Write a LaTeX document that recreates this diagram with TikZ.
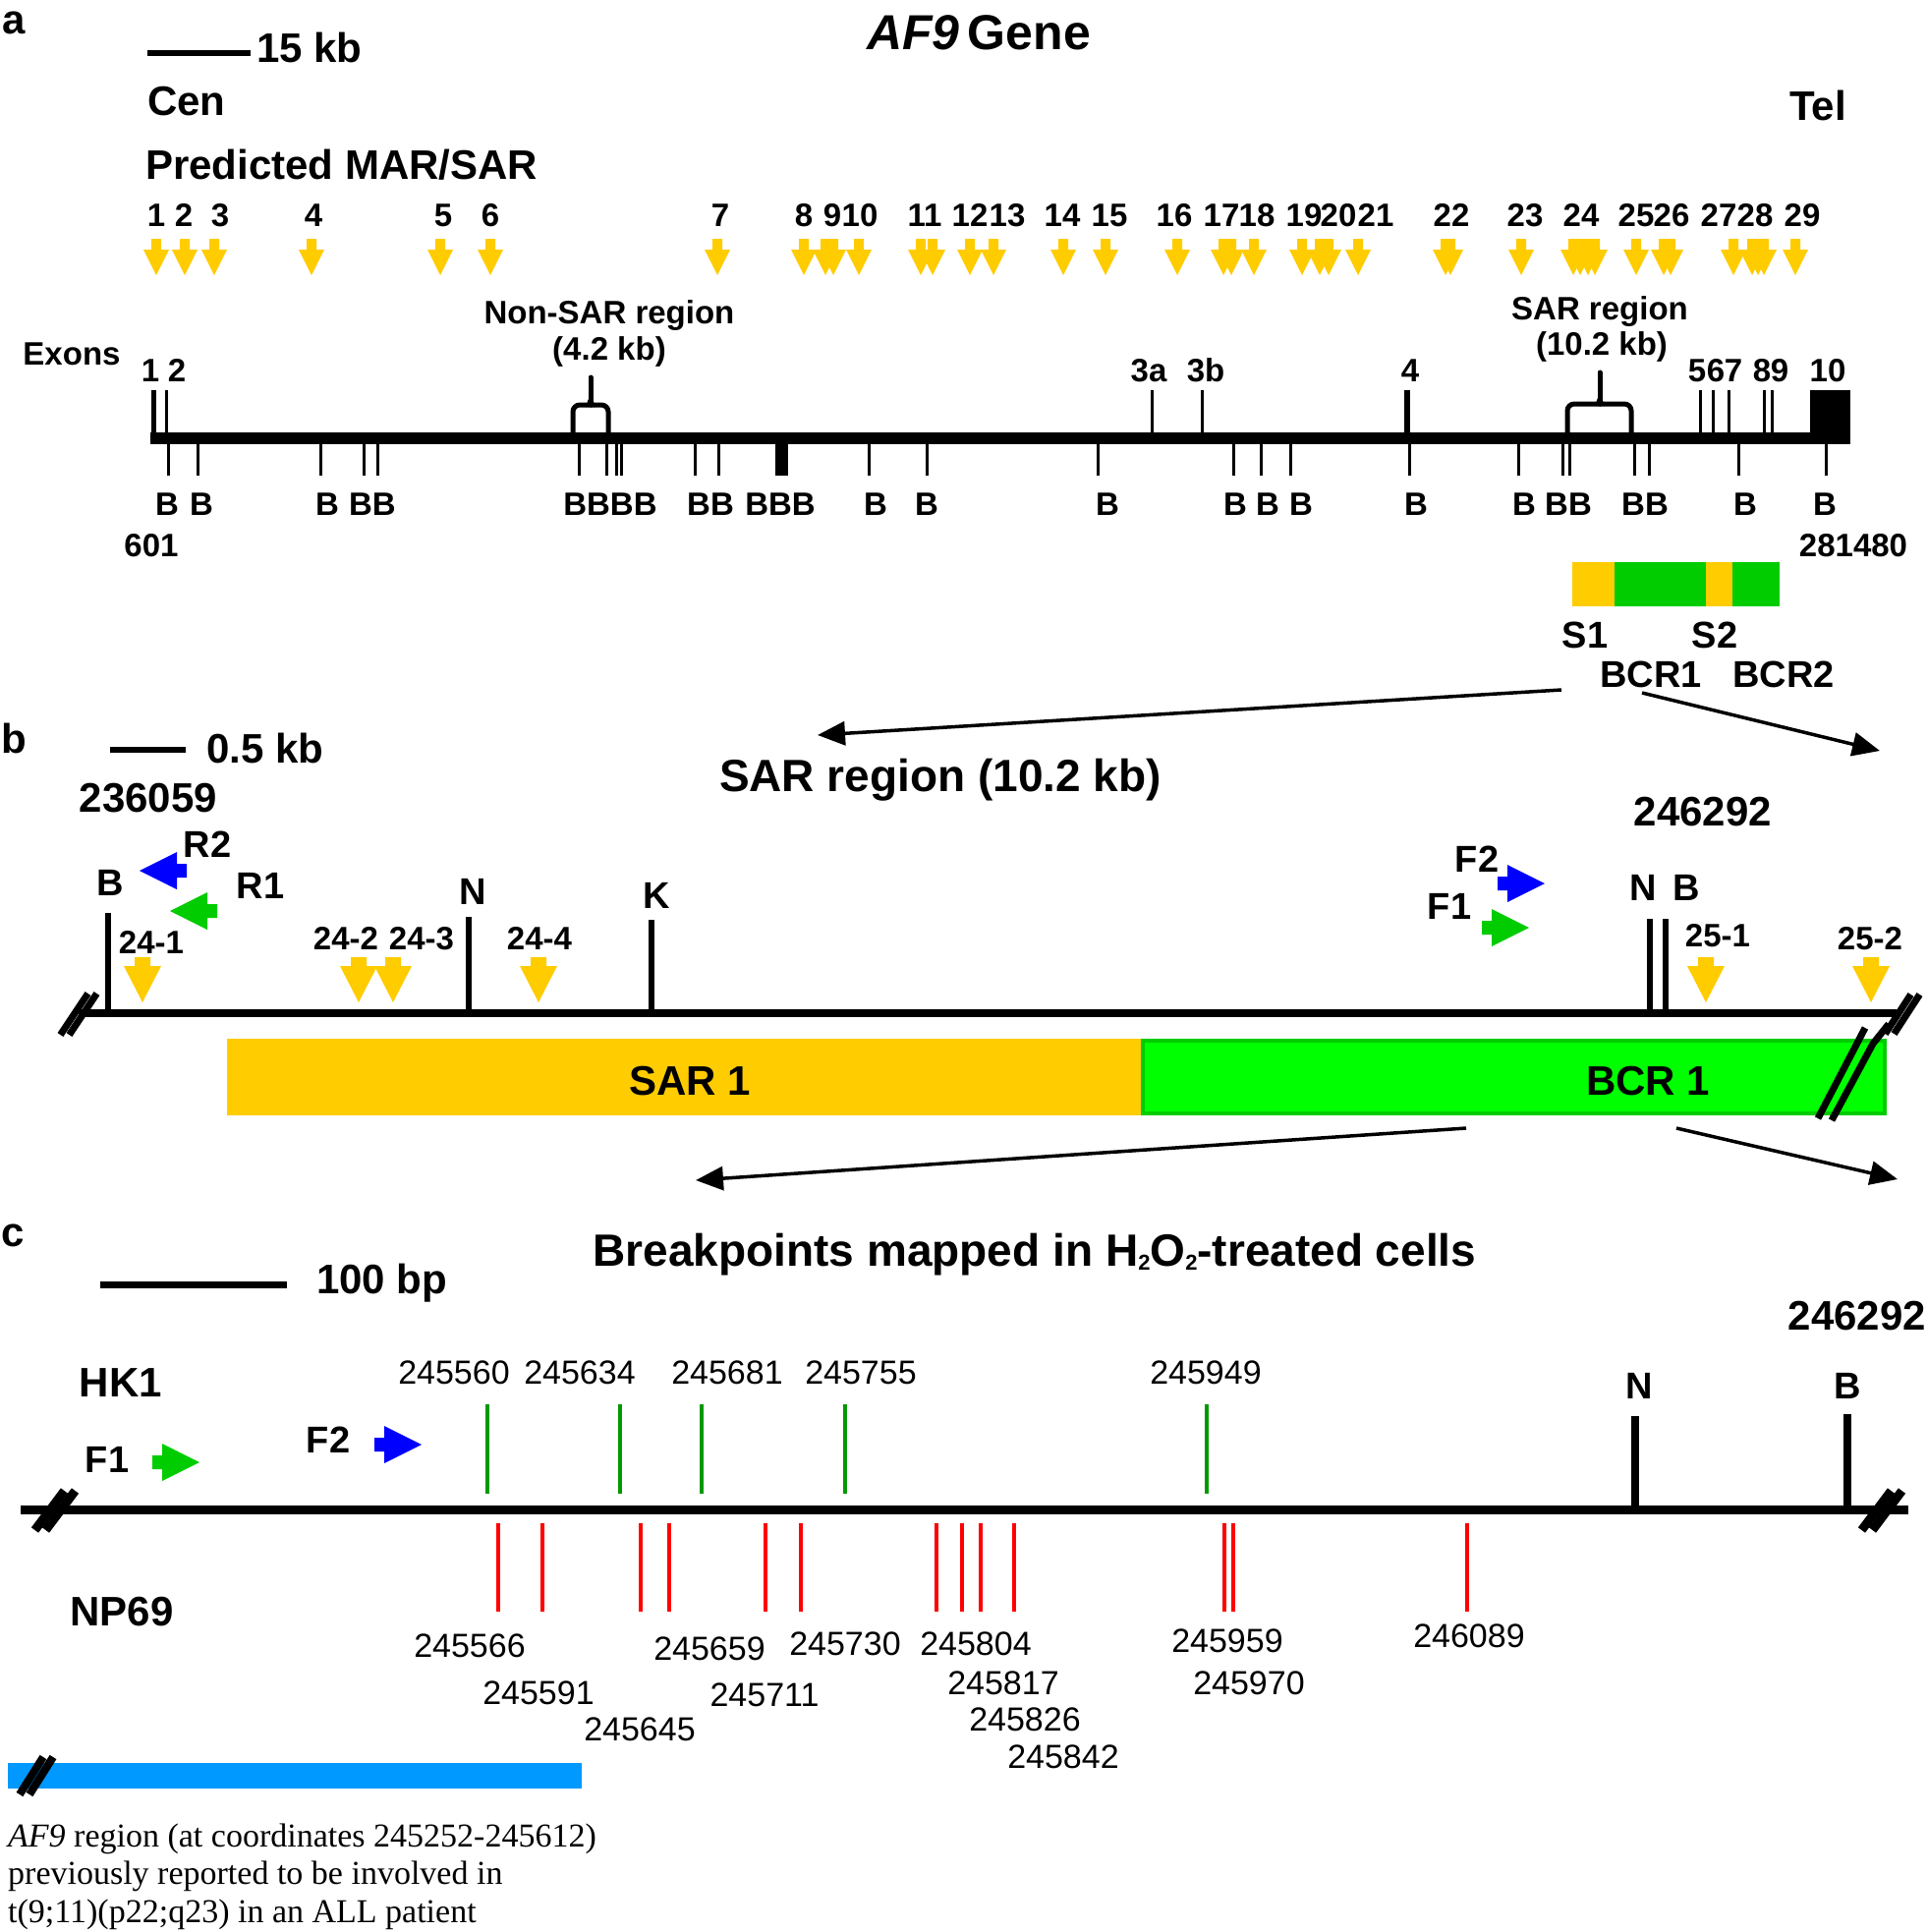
\documentclass[tikz,border=0pt]{standalone}
\usepackage{fontspec}
\setmainfont{Liberation Sans}
\newfontfamily\tmsfont{Liberation Serif}
\usetikzlibrary{arrows.meta}
\definecolor{yel}{RGB}{255,204,0}
\definecolor{grA}{RGB}{0,204,0}
\definecolor{grB}{RGB}{0,255,0}
\definecolor{grT}{RGB}{0,153,0}
\definecolor{blP}{RGB}{0,0,255}
\definecolor{blBar}{RGB}{0,153,255}
\definecolor{redT}{RGB}{255,0,0}
\newcommand{\myfs}[1]{\fontsize{#1}{#1}\selectfont}
\newcommand{\subtwo}{{\myfs{22}\raisebox{-4pt}{2}}}
% yellow arrows, panel a
\newcommand{\yA}[1]{\fill[yel] ({#1-5},243) -- ({#1+5},243) -- ({#1+5},254) -- ({#1+13},254) -- (#1,280) -- ({#1-13},254) -- ({#1-5},254) -- cycle;}
% yellow arrows, panel b
\newcommand{\yB}[1]{\fill[yel] ({#1-8},974) -- ({#1+8},974) -- ({#1+8},983) -- ({#1+19},983) -- (#1,1020) -- ({#1-19},983) -- ({#1-8},983) -- cycle;}
% primer arrow: colour, tip x, tip y, direction (+1 right, -1 left)
\newcommand{\primer}[4]{\fill[#1] (#2,#3) -- ({#2-(#4)*38},{#3-19}) -- ({#2-(#4)*38},{#3-7}) -- ({#2-(#4)*48},{#3-7}) -- ({#2-(#4)*48},{#3+7}) -- ({#2-(#4)*38},{#3+7}) -- ({#2-(#4)*38},{#3+19}) -- cycle;}
% break mark: centre x, centre y, half dx, half dy, gap, width
\newcommand{\brk}[6]{\draw[line width=#6pt] ({#1-#5/2-#3},{#2+#4}) -- ({#1-#5/2+#3},{#2-#4}); \draw[line width=#6pt] ({#1+#5/2-#3},{#2+#4}) -- ({#1+#5/2+#3},{#2-#4});}
\begin{document}
\begin{tikzpicture}[x=1pt,y=-1pt,
  lab/.style={font=\bfseries\myfs{33}, inner sep=0, anchor=base},
  labM/.style={font=\bfseries\myfs{38}, inner sep=0, anchor=base},
  labL/.style={font=\bfseries\myfs{42}, inner sep=0, anchor=base},
  labT/.style={font=\bfseries\myfs{46}, inner sep=0, anchor=base},
  num/.style={font=\myfs{34}, inner sep=0, anchor=base},
  zarr/.style={line width=3.5pt, -{Triangle[length=28pt,width=24pt]}},
  thin/.style={line width=3pt},
  brace/.style={line width=5pt, rounded corners=7pt}
]
\useasboundingbox (0,0) rectangle (1961,1966);

%%%%%%%%%%%%%%%% panel a
\node[labL] (pa) at (14,34) {a};
\draw[line width=6pt] (150,54) -- (255,54);
\node[labL, anchor=base west] (sc15) at (261,63) {15 kb};
\node[font=\bfseries\itshape\myfs{50}, inner sep=0, anchor=base] (ttlA) at (996,50) {AF9\,\upshape Gene};
\node[labL, anchor=base west] (cen) at (150,117) {Cen};
\node[labL] (tel) at (1850,122) {Tel};
\node[labL, anchor=base west] (pms) at (148,182) {Predicted MAR/SAR};

\foreach \x/\t in {159/1,187/2,224/3,319/4,451/5,499/6,733/7,818/8,847/9,875/10,941/11,987/12,1025/13,1081/14,1129/15,1195/16,1243/17,1279/18,1327/19,1362/20,1400/21,1477/22,1552/23,1609/24,1665/25,1701/26,1749/27,1786/28,1834/29}
  {\node[lab] (sar\t) at (\x,230) {\t};}
\foreach \x in {159,188,218,317,448,499,730,818,840,848,874,937,949,987,1011,1082,1125,1198,1245,1253,1276,1325,1343,1352,1382,1471,1476,1548,1601,1608,1616,1623,1665,1693,1700,1764,1783,1789,1795,1827}
  {\yA{\x}}

\node[lab] (nsr) at (620,329) {Non-SAR region};
\node[lab] (nsr2) at (620,366) {(4.2 kb)};
\node[lab] (sr) at (1628,325) {SAR region};
\node[lab] (sr2) at (1630,361) {(10.2 kb)};
\node[lab] (exons) at (73,371) {Exons};

\foreach \x/\t in {153/1,180/2,1169/3a,1227/3b,1435/4,1727/5,1746/6,1764/7,1793/8,1811/9,1860/10}
  {\node[lab] (ex\t) at (\x,388) {\t};}

% gene line
\draw[line width=12pt] (153,446) -- (1842,446);
\fill (1842,397) rectangle (1883,452);
\draw[line width=5pt] (156,446) -- (156,397);
\foreach \x in {169,1172,1223,1730,1743,1759,1795,1803} {\draw[thin] (\x,446) -- (\x,397);}
\draw[line width=6pt] (1432,446) -- (1432,397);
% BamHI sites
\foreach \x in {171,201,326,370,384,589,617,627,632,707,731,884,943,1117,1255,1283,1313,1434,1545,1590,1597,1663,1678,1769,1858}
  {\draw[thin] (\x,446) -- (\x,484);}
\fill (789,446) rectangle (802,484);
\foreach \x/\t [count=\i] in {170/B,205/B,333/B,379/BB,621/BBBB,723/BB,794/BBB,891/B,943/B,1127/B,1257/B,1290/B,1324/B,1441/B,1551/B,1596/BB,1674/BB,1776/B,1857/B}
  {\node[lab] (bl\i) at (\x,524) {\t};}
\node[lab] (c601) at (154,566) {601};
\node[lab] (c281) at (1886,566) {281480};

% braces
\draw[brace] (583,442) -- (583,412) -- (619,412) -- (619,442);
\draw[line width=5pt, line cap=round] (601,412) -- (601,384);
\fill (596,414) -- (601,400) -- (606,414) -- cycle;
\draw[brace] (1595,440) -- (1595,411) -- (1660,411) -- (1660,440);
\draw[line width=5pt, line cap=round] (1628,411) -- (1628,379);
\fill (1623,413) -- (1628,399) -- (1633,413) -- cycle;

% SAR/BCR bar
\fill[yel] (1600,572) rectangle (1643,617);
\fill[grA] (1643,572) rectangle (1736,617);
\fill[yel] (1736,572) rectangle (1763,617);
\fill[grA] (1763,572) rectangle (1811,617);
\node[labM] (s1) at (1613,659) {S1};
\node[labM] (s2) at (1745,659) {S2};
\node[labM] (bcr1) at (1680,699) {BCR1};
\node[labM] (bcr2) at (1815,699) {BCR2};

\coordinate (za1) at (1589,702);
\coordinate (za2) at (832,748);
\coordinate (za3) at (1671,705);
\coordinate (za4) at (1913,764);
\draw[zarr] (za1) -- (za2);
\draw[zarr] (za3) -- (za4);

%%%%%%%%%%%%%%%% panel b
\node[labL] (pb) at (14,766) {b};
\draw[line width=6pt] (112,763) -- (189,763);
\node[labL, anchor=base west] (sc05) at (210,776) {0.5 kb};
\node[labL] (c236) at (151,826) {236059};
\node[labT] (ttlB) at (957,805) {SAR region (10.2 kb)};
\node[labL] (c246b) at (1733,840) {246292};

\draw[line width=8pt] (80,1031) -- (1930,1031);
\brk{80}{1032}{14}{21}{9}{7}
\brk{1936}{1032}{13}{20}{9}{7}

\foreach \x/\t in {110/929,477/933,663/936,1679/935,1695/935}
  {\draw[line width=6.5pt] (\x,1031) -- (\x,\t);}
\node[labM] (rb1) at (112,911) {B};
\node[labM] (rn1) at (481,920) {N};
\node[labM] (rk1) at (668,924) {K};
\node[labM] (rn2) at (1672,916) {N};
\node[labM] (rb2) at (1716,916) {B};

\foreach \x in {145,365,400,548,1736,1904} {\yB{\x}}
\node[lab] (l241) at (154,970) {24-1};
\node[lab] (l242) at (352,966) {24-2};
\node[lab] (l243) at (429,966) {24-3};
\node[lab] (l244) at (549,966) {24-4};
\node[lab] (l251) at (1748,963) {25-1};
\node[lab] (l252) at (1903,966) {25-2};

\primer{blP}{142}{886}{-1}
\primer{grA}{173}{927}{-1}
\primer{blP}{1572}{899}{1}
\primer{grA}{1556}{944}{1}
\node[labM] (r2) at (211,872) {R2};
\node[labM] (r1) at (265,914) {R1};
\node[labM] (f2b) at (1503,887) {F2};
\node[labM] (f1b) at (1475,935) {F1};

\fill[yel] (231,1057) rectangle (1161,1135);
\fill[grB] (1161,1057) rectangle (1920,1135);
\draw[grA, line width=4pt] (1163,1059) rectangle (1918,1133);
\node[labL] (sar1) at (702,1114) {SAR 1};
\node[labL] (bcrb) at (1677,1114) {BCR 1};
\draw[line width=7pt] (1850,1138) -- (1898,1046);
\draw[line width=7pt] (1864,1140) -- (1906,1062) -- (1922,1042);

\coordinate (zb1) at (1492,1148);
\coordinate (zb2) at (708,1201);
\coordinate (zb3) at (1706,1148);
\coordinate (zb4) at (1931,1200);
\draw[zarr] (zb1) -- (zb2);
\draw[zarr] (zb3) -- (zb4);

%%%%%%%%%%%%%%%% panel c
\node[labL] (pc) at (13,1268) {c};
\draw[line width=7pt] (102,1307) -- (292,1307);
\node[labL, anchor=base west] (sc100) at (322,1316) {100 bp};
\node[labT] (ttlC) at (1053,1288) {Breakpoints mapped in H\subtwo O\subtwo-treated cells};
\node[labL] (c246c) at (1890,1353) {246292};
\node[labL] (hk1) at (123,1421) {HK1};
\node[labL] (np69) at (124,1654) {NP69};

\draw[line width=9pt] (21,1536) -- (1942,1536);
\brk{56}{1537}{15}{20}{11}{9}
\brk{1915}{1537}{15}{20}{11}{9}

\primer{grA}{203}{1488}{1}
\primer{blP}{429}{1470}{1}
\node[labM] (f1c) at (109,1498) {F1};
\node[labM] (f2c) at (334,1478) {F2};

\draw[line width=8pt] (1664,1536) -- (1664,1441);
\draw[line width=8pt] (1880,1536) -- (1880,1439);
\node[labM] (nc) at (1668,1423) {N};
\node[labM] (bc) at (1880,1423) {B};

\foreach \x in {496,631,714,860,1228} {\draw[grT, line width=4pt] (\x,1429) -- (\x,1520);}
\foreach \x/\t in {462/245560,590/245634,740/245681,876/245755,1227/245949}
  {\node[num] (hk\t) at (\x,1408) {\t};}

\foreach \x in {507,552,652,681,779,815,953,979,998,1032,1246,1255,1493} {\draw[redT, line width=4pt] (\x,1550) -- (\x,1640);}
\foreach \x/\y/\t in {478/1686/245566,548/1734/245591,651/1771/245645,722/1689/245659,778/1736/245711,860/1684/245730,993/1684/245804,1021/1724/245817,1043/1761/245826,1082/1799/245842,1249/1681/245959,1271/1724/245970,1495/1676/246089}
  {\node[num] (np\t) at (\x,\y) {\t};}

\fill[blBar] (8,1794) rectangle (592,1820);
\brk{37}{1807}{12}{19}{10}{8}

\node[font=\tmsfont\myfs{34}, inner sep=0, anchor=base west] (note1) at (8,1879) {\textit{AF9} region (at coordinates 245252-245612)};
\node[font=\tmsfont\myfs{34}, inner sep=0, anchor=base west] (note2) at (8,1917) {previously reported to be involved in};
\node[font=\tmsfont\myfs{34}, inner sep=0, anchor=base west] (note3) at (8,1956) {t(9;11)(p22;q23) in an ALL patient};
\end{tikzpicture}
\end{document}
